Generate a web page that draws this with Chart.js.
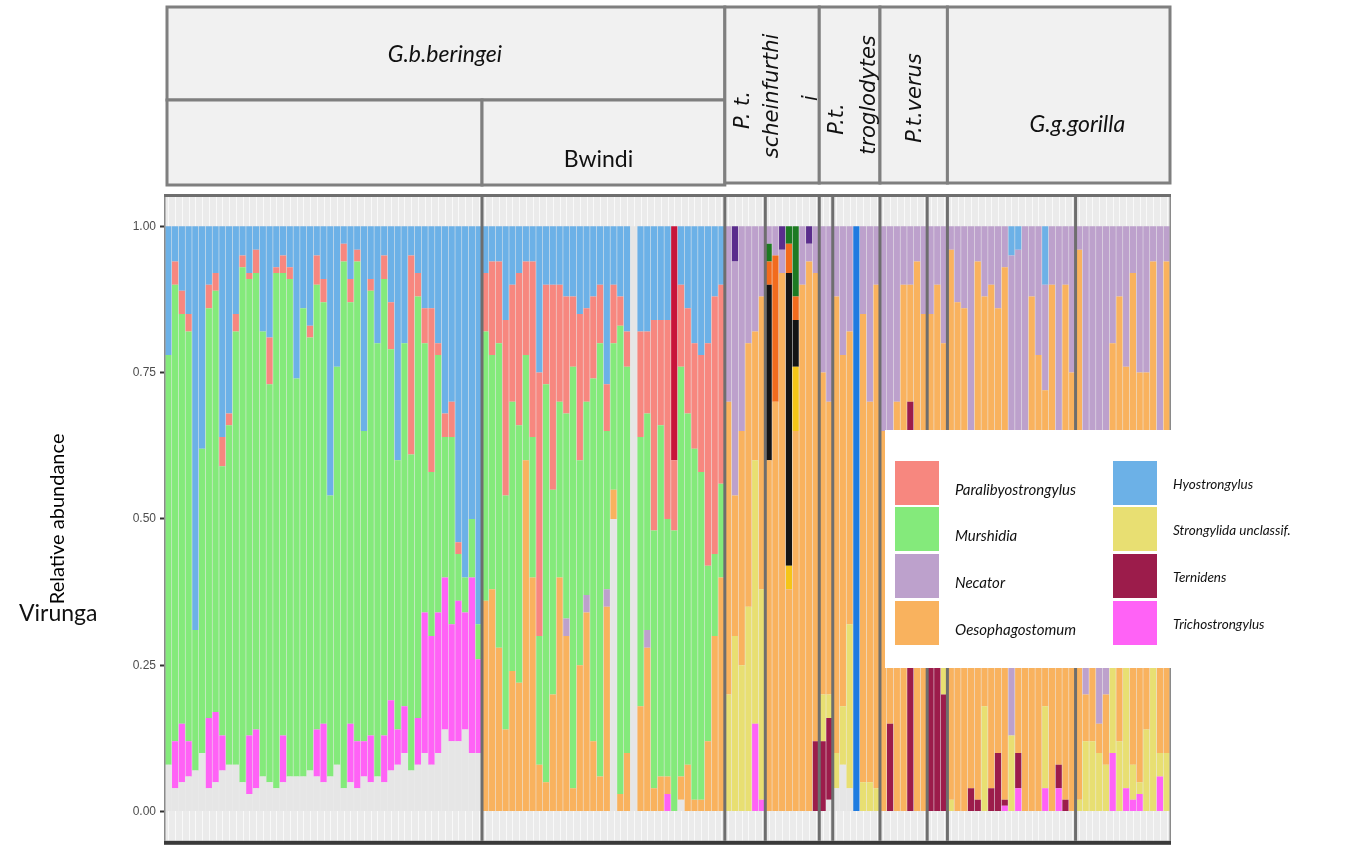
<!DOCTYPE html>
<html>
<head>
<meta charset="utf-8">
<script src="https://cdn.jsdelivr.net/npm/chart.js@4.4.0/dist/chart.umd.min.js"></script>
<style>
  html, body { margin: 0; padding: 0; background: #fff; }
  #wrap { width: 1357px; height: 852px; }
</style>
</head>
<body>
<div id="wrap"><canvas id="c" width="1357" height="852"></canvas></div>
<script>
// panels (facets) and number of samples in each
const panelNames = ['Virunga', 'Bwindi', 'Pts a', 'Pts b', 'Ptt a', 'Ptt b', 'Ptv a', 'Ptv b', 'Ggg a', 'Ggg b'];
const panelSizes = [47, 36, 6, 8, 2, 7, 7, 3, 19, 14];
const yTicks = [0, 0.25, 0.5, 0.75, 1];

// relative abundance per sample, in percent
// order of each array: Virunga 47 | Bwindi 36 | P.t.s 6+8 | P.t.t 2+7 | P.t.v 7+3 | G.g.g 19+14
const unassigned = [
  8,4,5,6,7,10,4,5,7,8, 8,5,3,4,6,5,4,5,6,6, 6,7,6,5,6,8,4,5,4,6, 5,6,5,7,8,10,7,8,10,8, 10,14,12,12,14,10,10,
  0,0,0,0,0,0,0,0,0,0, 0,0,0,0,0,0,0,0,0,50, 0,0,100,0,0,0,0,0,0,2, 0,0,0,0,0,0,
  0,0,0,0,0,0, 0,0,0,0,0,0,0,0,
  0,2, 4,8,4,0,0,0,0,
  0,0,0,0,0,0,0, 0,0,0,
  0,0,0,0,0,0,0,0,0,0, 0,0,0,0,0,0,0,0,0, 0,0,0,0,0,0,0,0,0,0, 0,0,0,0
];
const trichostrongylus = [
  0,8,10,6,0,0,12,12,6,0, 0,0,10,10,0,0,0,8,0,0, 0,0,8,10,0,0,0,10,8,6, 8,0,8,12,6,8,0,8,24,22, 24,26,20,24,20,30,16,
  0,0,0,0,0,0,0,0,0,0, 0,0,0,0,0,0,0,0,0,0, 0,0,0,0,0,0,0,3,0,0, 0,0,0,0,0,0,
  0,0,0,0,15,2, 0,0,0,0,0,0,0,0,
  0,0, 0,0,0,0,0,0,0,
  0,0,0,0,0,0,0, 0,0,0,
  0,0,0,0,0,0,0,0,1,0, 4,0,0,0,4,0,4,0,0, 0,0,0,0,0,10,0,4,2,3, 0,0,6,0
];
const ternidens = [
  0,0,0,0,0,0,0,0,0,0, 0,0,0,0,0,0,0,0,0,0, 0,0,0,0,0,0,0,0,0,0, 0,0,0,0,0,0,0,0,0,0, 0,0,0,0,0,0,0,
  0,0,0,0,0,0,0,0,0,0, 0,0,0,0,0,0,0,0,0,0, 0,0,0,0,0,0,0,0,0,0, 0,0,0,0,0,0,
  0,0,0,0,0,0, 0,0,0,0,0,0,0,12,
  12,14, 0,0,0,0,0,0,0,
  0,15,0,0,70,0,0, 25,40,20,
  0,0,0,4,2,0,4,10,1,0, 6,0,0,0,0,0,4,2,0, 0,0,0,0,0,0,0,0,0,0, 0,0,0,0
];
const strongylida = [
  0,0,0,0,0,0,0,0,0,0, 0,0,0,0,0,0,0,0,0,0, 0,0,0,0,0,0,0,0,0,0, 0,0,0,0,0,0,0,0,0,0, 0,0,0,0,0,0,0,
  0,0,0,0,0,0,0,0,0,0, 0,0,0,0,0,0,0,0,0,0, 0,0,0,0,0,0,0,0,0,0, 0,0,0,0,0,0,
  20,30,25,35,45,36, 0,0,0,0,0,0,0,0,
  8,4, 6,10,28,0,5,5,4,
  0,0,0,0,0,0,0, 0,0,15,
  2,0,0,0,0,18,0,0,0,13, 0,0,0,0,14,0,0,0,0, 2,12,12,10,8,25,12,22,6,2, 14,34,4,10
];
const oesophagostomum = [
  0,0,0,0,0,0,0,0,0,0, 0,0,0,0,0,0,0,0,0,0, 0,0,0,0,0,0,0,0,0,0, 0,0,0,0,0,0,0,0,0,0, 0,0,0,0,0,0,0,
  36,38,28,14,24,22,60,40,8,5, 20,40,30,4,25,34,12,6,35,5, 3,10,0,18,28,4,6,3,0,4, 8,2,2,12,30,40,
  50,24,40,45,22,50, 60,70,92,38,65,90,94,80,
  55,50, 78,60,50,0,80,65,86,
  65,15,70,90,20,94,85, 60,50,45,
  94,87,86,56,92,70,86,76,91,0, 46,50,88,78,54,90,42,88,75, 94,8,28,5,12,45,76,50,84,70, 61,60,30,84
];
// taxa drawn in the figure but not named in its legend
const otherGold = [
  0,0,0,0,0,0,0,0,0,0, 0,0,0,0,0,0,0,0,0,0, 0,0,0,0,0,0,0,0,0,0, 0,0,0,0,0,0,0,0,0,0, 0,0,0,0,0,0,0,
  0,0,0,0,0,0,0,0,0,0, 0,0,0,0,0,0,0,0,0,0, 0,0,0,0,0,0,0,0,0,0, 0,0,0,0,0,0,
  0,0,0,0,0,0, 0,0,0,4,11,0,0,0,
  0,0, 0,0,0,0,0,0,0,
  0,0,0,0,0,0,0, 0,0,0,
  0,0,0,0,0,0,0,0,0,0, 0,0,0,0,0,0,0,0,0, 0,0,0,0,0,0,0,0,0,0, 0,0,0,0
];
const otherBlack = [
  0,0,0,0,0,0,0,0,0,0, 0,0,0,0,0,0,0,0,0,0, 0,0,0,0,0,0,0,0,0,0, 0,0,0,0,0,0,0,0,0,0, 0,0,0,0,0,0,0,
  0,0,0,0,0,0,0,0,0,0, 0,0,0,0,0,0,0,0,0,0, 0,0,0,0,0,0,0,0,0,0, 0,0,0,0,0,0,
  0,0,0,0,0,0, 30,0,0,50,8,0,0,0,
  0,0, 0,0,0,0,0,0,0,
  0,0,0,0,0,0,0, 0,0,0,
  0,0,0,0,0,0,0,0,0,0, 0,0,0,0,0,0,0,0,0, 0,0,0,0,0,0,0,0,0,0, 0,0,0,0
];
const otherOrange = [
  0,0,0,0,0,0,0,0,0,0, 0,0,0,0,0,0,0,0,0,0, 0,0,0,0,0,0,0,0,0,0, 0,0,0,0,0,0,0,0,0,0, 0,0,0,0,0,0,0,
  0,0,0,0,0,0,0,0,0,0, 0,0,0,0,0,0,0,0,0,0, 0,0,0,0,0,0,0,0,0,0, 0,0,0,0,0,0,
  0,0,0,0,0,0, 4,25,0,5,4,0,0,0,
  0,0, 0,0,0,0,0,0,0,
  0,0,0,0,0,0,0, 0,0,0,
  0,0,0,0,0,0,0,0,0,0, 0,0,0,0,0,0,0,0,0, 0,0,0,0,0,0,0,0,0,0, 0,0,0,0
];
const otherGreen = [
  0,0,0,0,0,0,0,0,0,0, 0,0,0,0,0,0,0,0,0,0, 0,0,0,0,0,0,0,0,0,0, 0,0,0,0,0,0,0,0,0,0, 0,0,0,0,0,0,0,
  0,0,0,0,0,0,0,0,0,0, 0,0,0,0,0,0,0,0,0,0, 0,0,0,0,0,0,0,0,0,0, 0,0,0,0,0,0,
  0,0,0,0,0,0, 3,0,0,3,12,0,0,0,
  0,0, 0,0,0,0,0,0,0,
  0,0,0,0,0,0,0, 0,0,0,
  0,0,0,0,0,0,0,0,0,0, 0,0,0,0,0,0,0,0,0, 0,0,0,0,0,0,0,0,0,0, 0,0,0,0
];
const necator = [
  0,0,0,0,0,0,0,0,0,0, 0,0,0,0,0,0,0,0,0,0, 0,0,0,0,0,0,0,0,0,0, 0,0,0,0,0,0,0,0,0,0, 0,0,0,0,0,0,0,
  0,0,0,0,0,0,0,0,0,0, 0,0,3,0,0,3,0,0,3,0, 0,0,0,0,3,0,0,0,0,0, 0,0,0,0,0,0,
  30,40,35,20,18,12, 3,5,4,0,0,10,3,8,
  25,30, 12,22,18,0,15,30,10,
  35,70,30,10,10,6,15, 15,10,20,
  4,13,14,40,6,12,10,14,7,82, 40,50,12,22,18,10,50,10,25, 4,80,60,85,80,20,12,24,8,25, 25,6,60,6
];
const murshidia = [
  70,78,70,70,24,52,70,72,46,58, 74,88,78,78,76,68,88,79,85,68, 80,74,76,72,48,68,90,72,82,53, 76,74,78,60,46,62,54,72,46,28, 44,24,32,8,6,10,6,
  46,40,52,40,46,44,18,24,22,68, 35,30,35,72,35,33,62,74,27,25, 80,66,0,46,37,44,60,44,48,70, 60,60,56,30,14,16,
  0,0,0,0,0,0, 0,0,0,0,0,0,0,0,
  0,0, 0,0,0,0,0,0,0,
  0,0,0,0,0,0,0, 0,0,0,
  0,0,0,0,0,0,0,0,0,0, 0,0,0,0,0,0,0,0,0, 0,0,0,0,0,0,0,0,0,0, 0,0,0,0
];
const paralibyostrongylus = [
  0,4,4,3,0,0,4,3,5,2, 3,2,1,4,0,8,1,3,2,0, 0,2,5,4,0,0,3,4,2,0, 2,0,4,8,0,0,34,4,6,28, 2,4,6,2,0,0,0,
  10,16,14,30,20,26,16,30,45,17, 35,20,20,12,25,16,14,10,8,10, 5,6,0,18,14,36,18,34,12,14, 18,18,20,38,44,34,
  0,0,0,0,0,0, 0,0,0,0,0,0,0,0,
  0,0, 0,0,0,0,0,0,0,
  0,0,0,0,0,0,0, 0,0,0,
  0,0,0,0,0,0,0,0,0,0, 0,0,0,0,0,0,0,0,0, 0,0,0,0,0,0,0,0,0,0, 0,0,0,0
];
const otherBlue = [
  0,0,0,0,0,0,0,0,0,0, 0,0,0,0,0,0,0,0,0,0, 0,0,0,0,0,0,0,0,0,0, 0,0,0,0,0,0,0,0,0,0, 0,0,0,0,0,0,0,
  0,0,0,0,0,0,0,0,0,0, 0,0,0,0,0,0,0,0,0,0, 0,0,0,0,0,0,0,0,0,0, 0,0,0,0,0,0,
  0,0,0,0,0,0, 0,0,0,0,0,0,0,0,
  0,0, 0,0,0,100,0,0,0,
  0,0,0,0,0,0,0, 0,0,0,
  0,0,0,0,0,0,0,0,0,0, 0,0,0,0,0,0,0,0,0, 0,0,0,0,0,0,0,0,0,0, 0,0,0,0
];
const hyostrongylus = [
  22,6,11,15,69,38,10,8,36,32, 15,5,8,4,18,19,7,5,7,26, 14,17,5,9,46,24,3,9,4,35, 9,20,5,13,40,20,5,8,14,14, 20,32,30,54,60,50,68,
  8,6,6,16,10,8,6,6,25,10, 10,10,12,12,15,14,12,10,27,10, 12,18,0,18,18,16,16,16,0,10, 14,20,22,20,12,10,
  0,0,0,0,0,0, 0,0,0,0,0,0,0,0,
  0,0, 0,0,0,0,0,0,0,
  0,0,0,0,0,0,0, 0,0,0,
  0,0,0,0,0,0,0,0,0,5, 4,0,0,0,10,0,0,0,0, 0,0,0,0,0,0,0,0,0,0, 0,0,0,0
];
const otherCrimson = [
  0,0,0,0,0,0,0,0,0,0, 0,0,0,0,0,0,0,0,0,0, 0,0,0,0,0,0,0,0,0,0, 0,0,0,0,0,0,0,0,0,0, 0,0,0,0,0,0,0,
  0,0,0,0,0,0,0,0,0,0, 0,0,0,0,0,0,0,0,0,0, 0,0,0,0,0,0,0,0,40,0, 0,0,0,0,0,0,
  0,0,0,0,0,0, 0,0,0,0,0,0,0,0,
  0,0, 0,0,0,0,0,0,0,
  0,0,0,0,0,0,0, 0,0,0,
  0,0,0,0,0,0,0,0,0,0, 0,0,0,0,0,0,0,0,0, 0,0,0,0,0,0,0,0,0,0, 0,0,0,0
];
const otherPurple = [
  0,0,0,0,0,0,0,0,0,0, 0,0,0,0,0,0,0,0,0,0, 0,0,0,0,0,0,0,0,0,0, 0,0,0,0,0,0,0,0,0,0, 0,0,0,0,0,0,0,
  0,0,0,0,0,0,0,0,0,0, 0,0,0,0,0,0,0,0,0,0, 0,0,0,0,0,0,0,0,0,0, 0,0,0,0,0,0,
  0,6,0,0,0,0, 0,0,4,0,0,0,3,0,
  0,0, 0,0,0,0,0,0,0,
  0,0,0,0,0,0,0, 0,0,0,
  0,0,0,0,0,0,0,0,0,0, 0,0,0,0,0,0,0,0,0, 0,0,0,0,0,0,0,0,0,0, 0,0,0,0
];

const sampleIds = panelNames.flatMap((p, i) =>
  Array.from({ length: panelSizes[i] }, (_, j) => p + ' ' + (j + 1)));

// stacked from the bottom up
const series = [
  ['unassigned', unassigned, '#E6E6E6', false],
  ['Trichostrongylus', trichostrongylus, '#FF62F6', true],
  ['Ternidens', ternidens, '#9C1C4B', true],
  ['Strongylida unclassif.', strongylida, '#E8DF72', true],
  ['Oesophagostomum', oesophagostomum, '#F9B25E', true],
  ['other gold', otherGold, '#F5C518', false],
  ['other black', otherBlack, '#141414', false],
  ['other orange', otherOrange, '#F26B1D', false],
  ['other green', otherGreen, '#1D7A22', false],
  ['Necator', necator, '#BDA1CC', true],
  ['Murshidia', murshidia, '#84EA7B', true],
  ['Paralibyostrongylus', paralibyostrongylus, '#F7877F', true],
  ['other blue', otherBlue, '#1E7BE0', false],
  ['Hyostrongylus', hyostrongylus, '#6CB1E7', true],
  ['other crimson', otherCrimson, '#C8143A', false],
  ['other purple', otherPurple, '#5A2D8C', false]
];
series.forEach(([name, arr]) => {
  if (arr.length !== sampleIds.length) throw new Error(name + ' has ' + arr.length + ' values');
});

const legendCols = [
  ['Paralibyostrongylus', 'Murshidia', 'Necator', 'Oesophagostomum'],
  ['Hyostrongylus', 'Strongylida unclassif.', 'Ternidens', 'Trichostrongylus']
];

function panelEdges(chart) {
  const x = chart.scales.x;
  const edges = [chart.chartArea.left];
  let k = 0;
  panelSizes.forEach((n, i) => {
    k += n;
    if (i < panelSizes.length - 1) edges.push((x.getPixelForValue(k - 1) + x.getPixelForValue(k)) / 2);
  });
  edges.push(chart.chartArea.right);
  return edges;
}

function rotText(ctx, text, x, y) {
  ctx.save();
  ctx.translate(x, y);
  ctx.rotate(-Math.PI / 2);
  ctx.fillText(text, 0, 0);
  ctx.restore();
}

const facetPlugin = {
  id: 'facets',
  beforeDatasetsDraw(chart) {
    const { ctx, chartArea: a, scales: { x } } = chart;
    ctx.save();
    ctx.fillStyle = '#EBEBEB';
    ctx.fillRect(a.left, a.top, a.right - a.left, a.bottom - a.top);
    ctx.strokeStyle = 'rgba(255,255,255,0.7)';
    ctx.lineWidth = 1;
    sampleIds.forEach((_, i) => {
      const px = Math.round(x.getPixelForValue(i)) + 0.5;
      ctx.beginPath();
      ctx.moveTo(px, a.top);
      ctx.lineTo(px, a.bottom);
      ctx.stroke();
    });
    ctx.restore();
  },
  afterDatasetsDraw(chart) {
    const { ctx, chartArea: a } = chart;
    const e = panelEdges(chart);
    ctx.save();
    ctx.strokeStyle = '#6E6E6E';
    ctx.lineWidth = 3;
    for (let i = 1; i < e.length - 1; i++) {
      ctx.beginPath();
      ctx.moveTo(e[i], a.top - 2);
      ctx.lineTo(e[i], a.bottom);
      ctx.stroke();
    }
    ctx.fillStyle = '#6E6E6E';
    ctx.fillRect(a.left - 1, a.top - 3, a.right - a.left + 2, 3);
    ctx.fillStyle = '#8A8A8A';
    ctx.fillRect(a.left - 1, a.top, 1.5, a.bottom - a.top);
    ctx.fillRect(a.right - 0.5, a.top, 1.5, a.bottom - a.top);
    ctx.fillStyle = '#3A3A3A';
    ctx.fillRect(a.left - 1, a.bottom, a.right - a.left + 2, 4);
    ctx.restore();
  },
  afterDraw(chart) {
    const { ctx } = chart;
    const e = panelEdges(chart);
    ctx.save();
    // facet strips
    const boxes = [[0, 1, 7, 100], [0, 0, 100, 185], [1, 1, 100, 185],
                   [2, 3, 7, 183], [4, 5, 7, 183], [6, 7, 7, 183], [8, 9, 7, 183]];
    boxes.forEach(([f, t, y0, y1]) => {
      const x0 = e[f] + (f === 0 ? 2 : 0);
      const x1 = e[t + 1];
      ctx.fillStyle = '#F1F1F1';
      ctx.fillRect(x0, y0, x1 - x0, y1 - y0);
      ctx.strokeStyle = '#7F7F7F';
      ctx.lineWidth = 3;
      ctx.strokeRect(x0, y0, x1 - x0, y1 - y0);
    });
    ctx.fillStyle = '#111';
    ctx.textAlign = 'center';
    ctx.textBaseline = 'middle';
    ctx.font = 'italic 23px Lato';
    ctx.fillText('G.b.beringei', (e[0] + e[2]) / 2, 55);
    ctx.fillText('G.g.gorilla', e[8] + 130, 125);
    ctx.font = '23px Lato';
    ctx.fillText('Bwindi', (e[1] + e[2]) / 2 - 5, 160);
    ctx.font = 'italic 21px "DejaVu Sans"';
    rotText(ctx, 'P. t.', e[2] + 19, 110);
    rotText(ctx, 'scheinfurthi', e[2] + 48, 96);
    rotText(ctx, 'i', e[2] + 87, 98);
    rotText(ctx, 'P.t.', e[4] + 18, 119);
    rotText(ctx, 'troglodytes', e[4] + 50, 95);
    rotText(ctx, 'P.t.verus', e[6] + 36, 98);
    ctx.textAlign = 'left';
    ctx.font = '23px Lato';
    ctx.fillText('Virunga', 19, 614);

    // legend box
    ctx.fillStyle = '#FFFFFF';
    ctx.fillRect(885, 430, 287, 238);
    const colour = {};
    chart.data.datasets.forEach(d => { colour[d.label] = d.backgroundColor; });
    const rowsY = [461, 507, 554, 601];
    legendCols.forEach((col, c) => {
      col.forEach((name, r) => {
        const sx = c === 0 ? 895 : 1113;
        ctx.fillStyle = colour[name];
        ctx.fillRect(sx, rowsY[r], 44, 44);
        ctx.fillStyle = '#111';
        ctx.textAlign = 'left';
        ctx.textBaseline = 'middle';
        if (c === 0) {
          ctx.font = 'italic 15px Lato';
          ctx.fillText(name, 955, rowsY[r] + 29);
        } else {
          ctx.font = 'italic 13.5px Lato';
          ctx.fillText(name, 1173, rowsY[r] + 24);
        }
      });
    });
    ctx.restore();
  }
};

new Chart(document.getElementById('c'), {
  type: 'bar',
  data: {
    labels: sampleIds,
    datasets: series.map(([label, arr, color]) => ({
      label,
      data: arr.map(v => v / 100),
      backgroundColor: color,
      borderWidth: 0,
      barPercentage: 0.92,
      categoryPercentage: 1.0
    }))
  },
  options: {
    responsive: false,
    animation: false,
    devicePixelRatio: 1,
    layout: { padding: { top: 197, right: 187, bottom: 4, left: 40 } },
    plugins: { legend: { display: false }, tooltip: { enabled: false } },
    scales: {
      x: { stacked: true, display: false },
      y: {
        stacked: true,
        min: -0.05,
        max: 1.05,
        afterFit: s => { s.width = 125; },
        afterBuildTicks: s => { s.ticks = yTicks.map(v => ({ value: v })); },
        ticks: {
          color: '#4D4D4D',
          font: { family: 'Liberation Sans', size: 12 },
          padding: 4,
          callback: v => Number(v).toFixed(2)
        },
        grid: { drawOnChartArea: false, tickLength: 5, tickWidth: 2, tickColor: '#333' },
        border: { display: false },
        title: {
          display: true,
          text: 'Relative abundance',
          color: '#000',
          font: { family: 'Lato', size: 20 },
          padding: { top: 6, bottom: 0 }
        }
      }
    }
  },
  plugins: [facetPlugin]
});
</script>
</body>
</html>
